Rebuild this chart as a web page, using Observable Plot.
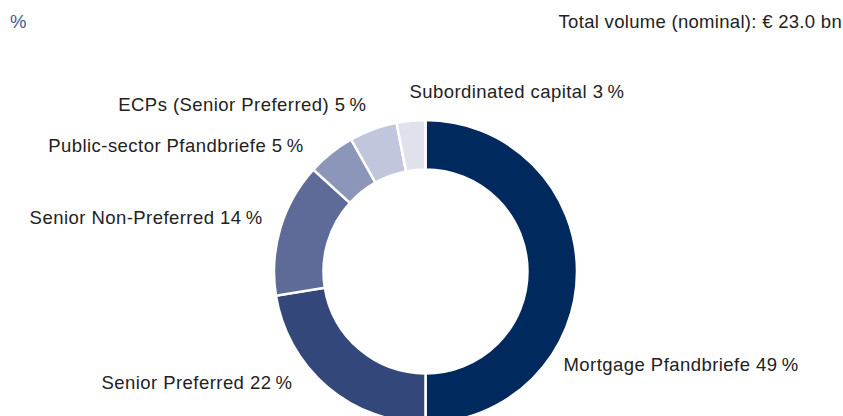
<!DOCTYPE html>
<html>
<head>
<meta charset="utf-8">
<script src="https://cdn.jsdelivr.net/npm/d3@7"></script>
<script src="https://cdn.jsdelivr.net/npm/@observablehq/plot@0.6"></script>
<style>
  html, body { margin: 0; padding: 0; background: #fff; }
  body { width: 843px; height: 416px; overflow: hidden; font-family: "Liberation Sans", Arial, Helvetica, sans-serif; }
  #header { position: relative; height: 40px; font-size: 18.5px; letter-spacing: 0.3px; }
  #unit { position: absolute; left: 10px; top: 11px; color: #3a5a93; }
  #total { position: absolute; right: 1px; top: 11px; color: #222; white-space: nowrap; }
  #chart svg { display: block; }
</style>
</head>
<body>
<div id="header">
  <span id="unit">%</span>
  <span id="total">Total volume (nominal): € 23.0 bn</span>
</div>
<div id="chart"></div>
<script>
// ---- data ----
const categories = [
  "Mortgage Pfandbriefe",
  "Senior Preferred",
  "Senior Non-Preferred",
  "Public-sector Pfandbriefe",
  "ECPs (Senior Preferred)",
  "Subordinated capital"
];
const shares = [49, 22, 14, 5, 5, 3];
const colors = ["#002a5e", "#34477a", "#5e6a98", "#8c96b9", "#c2c6dd", "#dfe1ed"];

// ---- layout (styles, not data) ----
const W = 843, H = 376;
const outerR = 151.5, innerR = 102;
// label nudges relative to the slice's mid-angle point on the outer rim (px, y down)
const labelNudge = [[-14, 98.5], [-35.3, 2.1], [-18.2, -4.5], [-28, -1.1], [-7.2, -19.3], [-2, -23.7]];

const arcs = d3.pie().sort(null).value(d => d)(shares);
const labels = arcs.map((a, i) => {
  const mid = (a.startAngle + a.endAngle) / 2;
  const px = outerR * Math.sin(mid), py = -outerR * Math.cos(mid);
  return {
    x: px + labelNudge[i][0],
    y: py + labelNudge[i][1],
    text: `${categories[i]} ${shares[i]}\u2009%`,
    right: Math.sin(mid) > 0 || i === categories.length - 1
  };
});

function donut(index, scales) {
  const cx = scales.x(0), cy = scales.y(0);
  const k = Math.abs(scales.x(1) - scales.x(0));
  const arc = d3.arc().innerRadius(innerR * k).outerRadius(outerR * k);
  const g = d3.create("svg:g").attr("transform", `translate(${cx},${cy})`);
  g.selectAll("path").data(arcs).join("path")
    .attr("d", arc)
    .attr("fill", (d, i) => colors[i])
    .attr("stroke", "#fff")
    .attr("stroke-width", 2.5)
    .attr("stroke-linejoin", "miter");
  return g.node();
}

const textStyle = {
  x: "x", y: "y", text: "text",
  lineAnchor: "bottom",
  fontSize: 18.5,
  fill: "#222",
  fontFamily: "Liberation Sans, Arial, sans-serif"
};

const chart = Plot.plot({
  width: W,
  height: H,
  margin: 0,
  style: { background: "#fff", overflow: "visible" },
  x: { domain: [-425.5, W - 425.5], axis: null },
  y: { domain: [-231.5, H - 231.5], reverse: true, axis: null },
  marks: [
    donut,
    Plot.text(labels.filter(d => d.right), { ...textStyle, textAnchor: "start" }),
    Plot.text(labels.filter(d => !d.right), { ...textStyle, textAnchor: "end" })
  ]
});
chart.querySelectorAll("text").forEach(t => t.setAttribute("letter-spacing", "0.45"));
document.getElementById("chart").appendChild(chart);
</script>
</body>
</html>
